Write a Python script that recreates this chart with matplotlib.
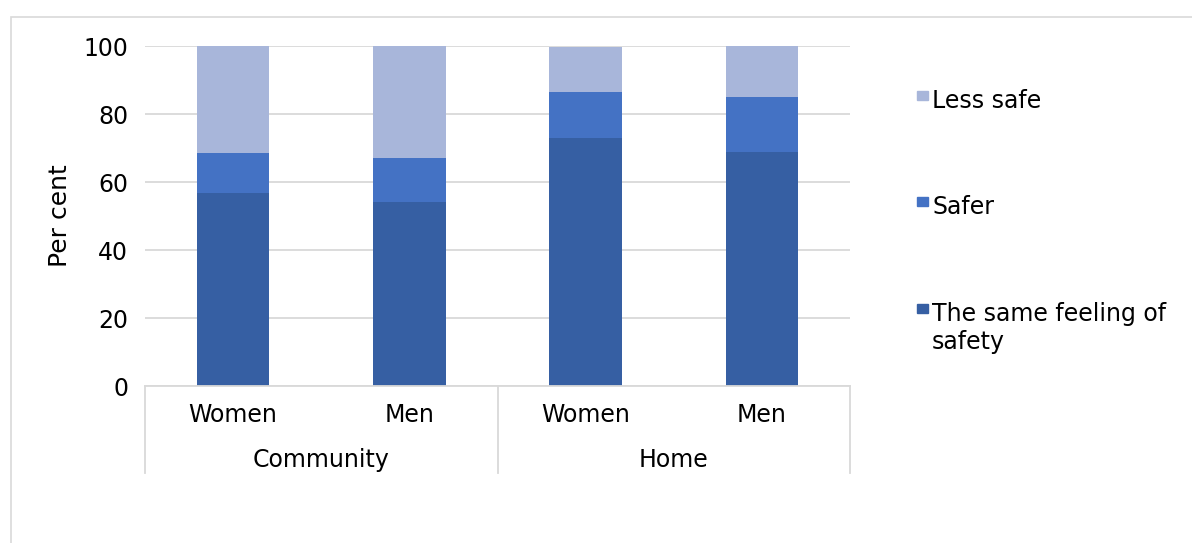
import matplotlib
matplotlib.use('Agg')
import matplotlib.pyplot as plt
from matplotlib.patches import Rectangle
from matplotlib.lines import Line2D

plt.rcParams['font.family'] = ['DejaVu Sans']

# data
groups = ['Community', 'Home']
sexes = ['Women', 'Men', 'Women', 'Men']
same = [56.9, 54.2, 72.8, 68.9]
safer = [11.5, 12.8, 13.6, 16.0]
less_safe = [31.6, 33.0, 13.2, 15.1]

series = ['The same feeling of\nsafety', 'Safer', 'Less safe']
colors = ['#365fa3', '#4472c4', '#a8b6da']
yticks = [0, 20, 40, 60, 80, 100]

FS = 17
W, H = 1192, 543
fig = plt.figure(figsize=(W / 100, H / 100), dpi=100)
ax = fig.add_axes([145 / W, 1 - 386 / H, 705 / W, 340 / H])

# outer chart border
fig.patches.append(Rectangle((11 / W, -0.1), 1.2, 1 - 17 / H + 0.1,
                             transform=fig.transFigure, fill=False,
                             edgecolor='#d9d9d9', lw=1.2))

x = list(range(len(sexes)))
bottom = [0.0] * len(x)
for vals, col in zip([same, safer, less_safe], colors):
    ax.bar(x, vals, width=0.41, bottom=bottom, color=col, zorder=3)
    bottom = [b + v for b, v in zip(bottom, vals)]

ax.set_xlim(-0.5, len(x) - 0.5)
ax.set_ylim(0, 100)
ax.set_yticks(yticks)
ax.yaxis.grid(True, color='#d9d9d9', lw=1.3, zorder=0)
ax.tick_params(axis='y', length=0, pad=12, labelsize=FS)
ax.set_xticks([])
for s in ax.spines.values():
    s.set_visible(False)
ax.set_ylabel('Per cent', fontsize=18, labelpad=8)

# category axis: base line and dividers
trans = ax.get_xaxis_transform()
ax.add_line(Line2D([-0.5, 3.5], [0, 0], transform=trans, color='#d9d9d9',
                   lw=1.3, clip_on=False, zorder=4))
depth = (473 - 386) / 340
for xd in [-0.5, 1.5, 3.5]:
    ax.add_line(Line2D([xd, xd], [0, -depth], transform=trans,
                       color='#d9d9d9', lw=1.3, clip_on=False))
for xi, lab in zip(x, sexes):
    ax.text(xi, -(415 - 386) / 340, lab, transform=trans, ha='center',
            va='center', fontsize=FS)
for gi, g in enumerate(groups):
    ax.text(gi * 2 + 0.5, -(460 - 386) / 340, g, transform=trans,
            ha='center', va='center', fontsize=FS)

# legend, drawn by hand to mimic the spacing
leg_y = [308, 201, 95]
for lab, col, yc in zip(series, colors, leg_y):
    fig.patches.append(Rectangle((917 / W, 1 - (yc + 4.5) / H), 11 / W, 9 / H,
                                 transform=fig.transFigure, color=col))
    fig.text(932 / W, 1 - (yc - 6) / H, lab, ha='left', va='top',
             fontsize=FS, linespacing=1.2)

fig.savefig('out.png', dpi=100)
